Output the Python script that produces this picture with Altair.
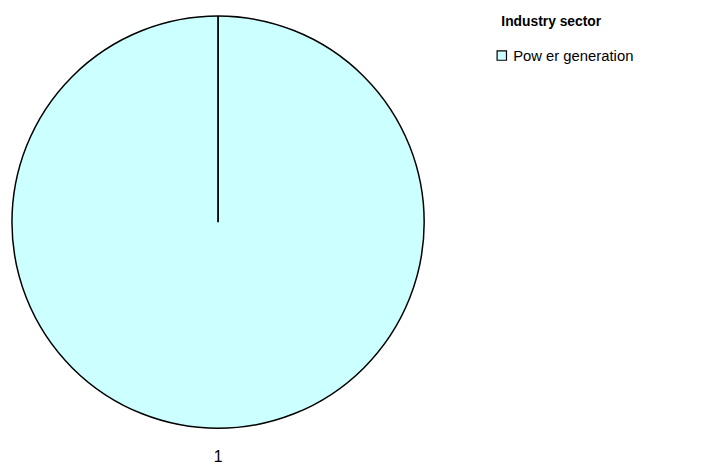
import altair as alt
import pandas as pd

# Data
sectors = ["Pow er generation"]
values = [1]
category_labels = ["1"]
legend_title = "Industry sector"

df = pd.DataFrame({"sector": sectors, "value": values, "label": category_labels})

CX, CY, R = 212.5, 214, 208.5
FONT = "Liberation Sans"

base = alt.Chart(df)

pie = base.mark_arc(radius=R, stroke="black", strokeWidth=1.5).encode(
    theta=alt.Theta("value:Q", stack=True),
    color=alt.Color(
        "sector:N",
        scale=alt.Scale(range=["#CCFFFF"]),
        legend=alt.Legend(
            title=None,
            orient="none",
            legendX=492,
            legendY=38,
            padding=0,
            symbolType="square",
            symbolSize=90,
            symbolStrokeColor="black",
            symbolStrokeWidth=1.2,
            labelFont=FONT,
            labelFontSize=15,
            labelColor="black",
            labelOffset=4,
            labelLimit=400,
        ),
    ),
    x=alt.value(CX),
    y=alt.value(CY),
)

spoke = base.mark_rule(color="black", strokeWidth=1.8).encode(
    x=alt.value(CX), y=alt.value(CY - R), y2=alt.value(CY)
)

cat_label = base.mark_text(font=FONT, fontSize=16, color="black", baseline="alphabetic").encode(
    text="label:N", x=alt.value(CX), y=alt.value(457)
)

title = base.mark_text(
    font=FONT, fontSize=14, fontWeight="bold", color="black", align="left", baseline="alphabetic"
).encode(text=alt.value(legend_title), x=alt.value(499), y=alt.value(16))

chart = alt.layer(pie, spoke, cat_label, title).properties(
    width=699, height=456, padding=0, autosize=alt.AutoSizeParams(type="none")
).configure_view(stroke=None)

chart.save("out.html", embed_options={"renderer": "svg", "actions": False})
